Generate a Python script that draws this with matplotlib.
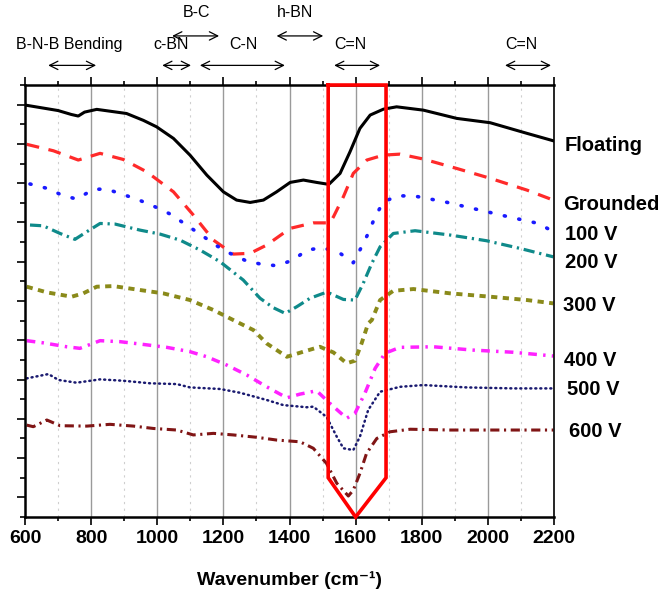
import numpy as np
import matplotlib
matplotlib.use("Agg")
import matplotlib.pyplot as plt
from matplotlib.ticker import MultipleLocator

plt.rcParams['font.family'] = ['Liberation Sans', 'DejaVu Sans']

# spectra (wavenumber, offset intensity)
floating_x = [600, 700, 740, 761, 780, 817, 907, 958, 998, 1049, 1099, 1150, 1200, 1240, 1281,
              1321, 1361, 1402, 1442, 1482, 1519, 1553, 1583, 1613, 1644, 1684, 1724, 1805,
              1906, 2007, 2118, 2198]
floating_y = [20.98, 20.7, 20.5, 20.42, 20.62, 20.76, 20.55, 20.2, 19.87, 19.28, 18.43, 17.41,
              16.56, 16.14, 16.02, 16.14, 16.56, 17.04, 17.16, 17.04, 16.94, 17.5, 18.6, 19.79,
              20.47, 20.77, 20.89, 20.72, 20.3, 20.08, 19.54, 19.16]

grounded_x = [605, 686, 761, 827, 897, 968, 1049, 1109, 1170, 1230, 1281, 1331, 1402, 1472,
              1522, 1533, 1563, 1593, 1634, 1684, 1734, 1805, 1906, 2007, 2118, 2198]
grounded_y = [18.98, 18.65, 18.18, 18.52, 18.21, 17.58, 16.56, 15.38, 14.1, 13.39, 13.43, 13.85,
              14.7, 14.98, 14.98, 15.29, 16.31, 17.5, 18.18, 18.43, 18.48, 18.23, 17.75, 17.25,
              16.65, 16.14]

v100_x = [615, 666, 711, 756, 807, 847, 938, 988, 1039, 1129, 1180, 1220, 1271, 1316, 1361,
          1412, 1452, 1502, 1553, 1593, 1618, 1638, 1659, 1684, 1729, 1780, 1870, 1966, 2062,
          2153, 2198]
v100_y = [16.96, 16.74, 16.4, 16.19, 16.69, 16.7, 16.19, 15.84, 15.43, 14.41, 13.81, 13.43,
          13.03, 12.87, 12.8, 13.09, 13.6, 13.71, 13.43, 12.95, 13.76, 14.44, 15.29, 16.05,
          16.36, 16.34, 16.05, 15.67, 15.29, 14.95, 14.53]

v200_x = [615, 655, 706, 751, 787, 827, 872, 948, 1008, 1069, 1129, 1190, 1260, 1311, 1351,
          1387, 1422, 1462, 1507, 1522, 1563, 1598, 1623, 1649, 1674, 1714, 1780, 1886, 1996,
          2097, 2198]
v200_y = [14.87, 14.83, 14.44, 14.14, 14.53, 14.95, 14.92, 14.61, 14.41, 14.1, 13.6, 13.0,
          12.07, 11.14, 10.66, 10.37, 10.71, 11.14, 11.42, 11.39, 11.08, 11.05, 11.9, 12.92,
          13.76, 14.44, 14.58, 14.36, 14.07, 13.68, 13.25]

v300_x = [605, 666, 741, 776, 817, 867, 948, 1018, 1099, 1170, 1230, 1291, 1331, 1392, 1442,
          1492, 1533, 1573, 1598, 1618, 1638, 1649, 1674, 1714, 1775, 1886, 2007, 2118, 2198]
v300_y = [11.73, 11.44, 11.22, 11.39, 11.73, 11.76, 11.56, 11.39, 11.05, 10.54, 10.03, 9.52,
          8.84, 8.16, 8.42, 8.67, 8.38, 7.83, 7.96, 8.84, 9.86, 10.03, 11.05, 11.52, 11.61,
          11.39, 11.22, 11.05, 10.88]

v400_x = [605, 655, 726, 766, 827, 887, 948, 1029, 1099, 1150, 1210, 1271, 1331, 1392, 1432,
          1482, 1522, 1548, 1573, 1598, 1628, 1659, 1689, 1734, 1835, 1956, 2077, 2198]
v400_y = [8.98, 8.87, 8.67, 8.59, 8.98, 8.93, 8.81, 8.64, 8.42, 8.16, 7.74, 7.23, 6.63, 6.07,
          6.26, 6.43, 5.79, 5.4, 5.03, 5.28, 6.3, 7.57, 8.34, 8.64, 8.67, 8.5, 8.39, 8.2]

v500_x = [605, 671, 701, 756, 827, 897, 978, 1059, 1099, 1190, 1250, 1331, 1381, 1452, 1472,
          1512, 1543, 1563, 1593, 1613, 1638, 1674, 1734, 1805, 1936, 2077, 2198]
v500_y = [7.06, 7.28, 6.98, 6.84, 7.01, 6.94, 6.81, 6.77, 6.6, 6.52, 6.33, 5.96, 5.7, 5.59,
          5.62, 5.1, 4.09, 3.5, 3.41, 4.09, 5.45, 6.38, 6.63, 6.72, 6.6, 6.55, 6.55]

v600_x = [605, 625, 666, 706, 787, 857, 928, 988, 1059, 1109, 1170, 1230, 1301, 1361, 1432,
          1472, 1512, 1543, 1578, 1593, 1613, 1633, 1664, 1704, 1765, 1886, 2037, 2198]
v600_y = [4.68, 4.6, 4.94, 4.65, 4.63, 4.72, 4.63, 4.51, 4.43, 4.18, 4.26, 4.18, 4.06, 3.92,
          3.83, 3.5, 2.73, 1.72, 1.07, 1.37, 2.22, 3.24, 4.0, 4.34, 4.47, 4.43, 4.43, 4.43]

series_labels = ['Floating', 'Grounded', '100 V', '200 V', '300 V', '400 V', '500 V', '600 V']
label_y = [18.94, 15.94, 14.41, 12.98, 10.79, 7.99, 6.47, 4.38]
label_x = [2233, 2227, 2233, 2233, 2227, 2230, 2239, 2246]

# band assignments drawn above the plot
band_labels = ['B-N-B Bending', 'c-BN', 'B-C', 'C-N', 'h-BN', 'C=N', 'C=N']
band_start = [670, 1015, 1045, 1129, 1361, 1535, 2052]
band_end = [815, 1102, 1187, 1386, 1502, 1674, 2191]
band_text_x = [733, 1042, 1120, 1259, 1417, 1585, 2102]
band_row = [0, 0, 1, 0, 1, 0, 0]

# highlighted C=N region
box_x = [1517, 1517, 1600, 1692, 1692, 1517]
box_y = [22, 2, 0, 2, 22, 22]

fig = plt.figure(figsize=(6.64, 5.9), dpi=100)
ax = fig.add_axes([0.0377, 0.1237, 0.7966, 0.7322])

# vertical grid
for xv in range(800, 2200, 200):
  ax.axvline(xv, color='#9a9a9a', lw=1.0, zorder=0)
for xv in range(700, 2200, 200):
  ax.axvline(xv, color='#cfcfcf', lw=0.8, ls=(0, (2, 4)), zorder=0)

# the spectra
ax.plot(floating_x, floating_y, color='black', lw=2.2, solid_joinstyle='round')
ax.plot(grounded_x, grounded_y, color='#ff2a2a', lw=2.3, dashes=(4, 3))
ax.plot(v100_x, v100_y, color='#1a1aff', lw=2.6, dashes=(0.3, 3.8), dash_capstyle='round')
ax.plot(v200_x, v200_y, color='#0f8a8a', lw=2.3, dashes=(3.5, 1.5, 0.7, 1.5))
ax.plot(v300_x, v300_y, color='#8a8a1a', lw=2.8, dashes=(1.6, 1.4))
ax.plot(v400_x, v400_y, color='#ff22ff', lw=2.5, dashes=(2.5, 1.8, 0.7, 1.8))
ax.plot(v500_x, v500_y, color='#1a1a70', lw=1.8, dashes=(0.4, 1.6), dash_capstyle='round')
ax.plot(v600_x, v600_y, color='#801515', lw=2.2, dashes=(3, 1.5, 0.7, 1.5))

ax.plot(box_x, box_y, color='#ff0000', lw=2.6, clip_on=False, zorder=5,
        solid_joinstyle='miter')

for lab, lx, ly in zip(series_labels, label_x, label_y):
  ax.text(lx, ly, lab, fontsize=14.5, fontweight='bold', va='center', ha='left',
          clip_on=False)

row_arrow_y = [23.0, 24.5]
row_text_y = [23.7, 25.3]
for lab, x0, x1, tx, r in zip(band_labels, band_start, band_end, band_text_x, band_row):
  ax.annotate('', xy=(x0, row_arrow_y[r]), xytext=(x1, row_arrow_y[r]),
              arrowprops=dict(arrowstyle='<->, head_length=0.6, head_width=0.3',
                              color='black', lw=0.9, shrinkA=0, shrinkB=0),
              annotation_clip=False)
  ax.text(tx, row_text_y[r], lab, fontsize=11.5, ha='center', va='bottom', clip_on=False)

ax.set_xlim(600, 2200)
ax.set_ylim(0, 22)
ax.xaxis.set_major_locator(MultipleLocator(200))
ax.xaxis.set_minor_locator(MultipleLocator(100))
ax.yaxis.set_major_locator(MultipleLocator(2, offset=1))
ax.yaxis.set_minor_locator(MultipleLocator(1))
ax.tick_params(axis='x', which='both', direction='out', top=True, bottom=True,
               width=1.2, labelsize=14)
ax.tick_params(axis='x', which='major', length=6)
ax.tick_params(axis='x', which='minor', length=3)
ax.tick_params(axis='y', which='major', length=6, width=1.2, labelleft=False)
ax.tick_params(axis='y', which='minor', length=3.5, width=1.2)
for t in ax.get_xticklabels():
  t.set_fontweight('bold')
for s in ['left', 'bottom', 'top']:
  ax.spines[s].set_linewidth(1.8)
ax.spines['right'].set_linewidth(1.2)

ax.set_xlabel('Wavenumber (cm\u207b\u00b9)', fontsize=14, fontweight='bold', labelpad=17)

fig.savefig('out.png', dpi=100)
